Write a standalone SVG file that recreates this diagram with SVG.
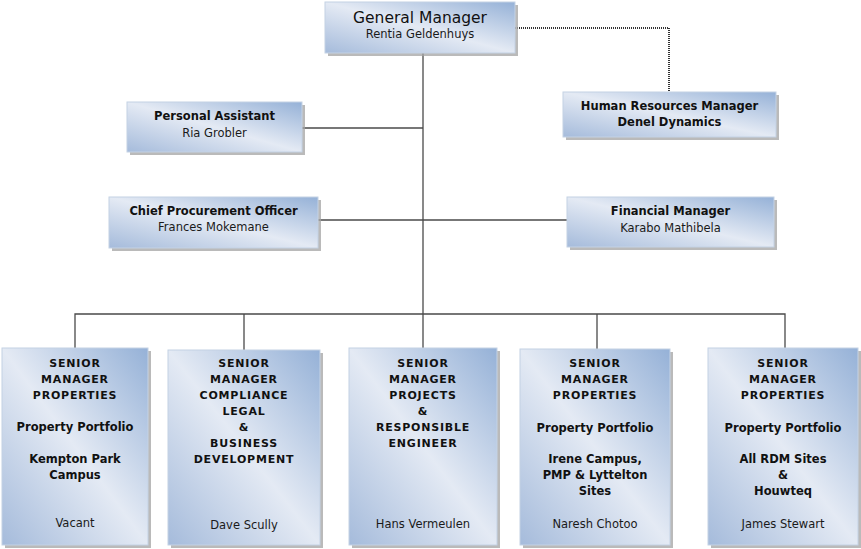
<svg xmlns="http://www.w3.org/2000/svg" width="861" height="549" viewBox="0 0 861 549">
<defs>
<linearGradient id="g" x1="1" y1="0" x2="0" y2="1">
<stop offset="0" stop-color="#95b1d7"/>
<stop offset="0.5" stop-color="#e4eaf4"/>
<stop offset="1" stop-color="#a5bbdb"/>
</linearGradient>
</defs>
<style>
.sh{fill:#a3a3a3;opacity:0.75}
.bx{fill:url(#g);stroke:#c4d2e4;stroke-width:1}
.ln{stroke:#4a4a4a;stroke-width:1.3;fill:none}
.dot{stroke:#333;stroke-width:2;stroke-dasharray:1 1;fill:none}
text{font-family:"DejaVu Sans","Liberation Sans",sans-serif;fill:#111;text-anchor:middle}
.t{font-size:11.5px;font-weight:bold}
.c{font-size:11px;font-weight:bold;letter-spacing:0.8px}
.n{font-size:11.5px;fill:#1a1a1a}
.gm{font-size:15.5px}
</style>
<g id="connectors">
<line class="ln" x1="423" y1="53" x2="423" y2="348"/>
<line class="ln" x1="302" y1="128" x2="423" y2="128"/>
<line class="ln" x1="318" y1="220" x2="567" y2="220"/>
<polyline class="ln" points="75,348 75,314 785,314 785,348"/>
<line class="ln" x1="244" y1="314" x2="244" y2="350"/>
<line class="ln" x1="597" y1="314" x2="597" y2="349"/>
<polyline class="dot" points="515,28 669,28 669,92"/>
</g>
<g id="gm">
<rect class="sh" x="328" y="5" width="190" height="51"/>
<rect class="bx" x="325" y="2" width="190" height="51"/>
<text class="gm" x="420" y="23">General Manager</text>
<text class="n" x="420" y="38">Rentia Geldenhuys</text>
</g>
<g id="pa">
<rect class="sh" x="130" y="105" width="175" height="50"/>
<rect class="bx" x="127" y="102" width="175" height="50"/>
<text class="t" x="214.5" y="120">Personal Assistant</text>
<text class="n" x="214.5" y="137">Ria Grobler</text>
</g>
<g id="hr">
<rect class="sh" x="566" y="95" width="213" height="45"/>
<rect class="bx" x="563" y="92" width="213" height="45"/>
<text class="t" x="669.5" y="110">Human Resources Manager</text>
<text class="t" x="669.5" y="126">Denel Dynamics</text>
</g>
<g id="cpo">
<rect class="sh" x="112" y="200" width="209" height="51"/>
<rect class="bx" x="109" y="197" width="209" height="51"/>
<text class="t" x="213.5" y="215">Chief Procurement Officer</text>
<text class="n" x="213.5" y="231">Frances Mokemane</text>
</g>
<g id="fm">
<rect class="sh" x="570" y="200" width="207" height="50"/>
<rect class="bx" x="567" y="197" width="207" height="50"/>
<text class="t" x="670.5" y="215">Financial Manager</text>
<text class="n" x="670.5" y="232">Karabo Mathibela</text>
</g>
<g id="sm1">
<rect class="sh" x="5" y="351" width="146" height="197"/>
<rect class="bx" x="2" y="348" width="146" height="197"/>
<text class="c" x="75" y="367">SENIOR</text>
<text class="c" x="75" y="383">MANAGER</text>
<text class="c" x="75" y="399">PROPERTIES</text>
<text class="t" x="75" y="431">Property Portfolio</text>
<text class="t" x="75" y="463">Kempton Park</text>
<text class="t" x="75" y="479">Campus</text>
<text class="n" x="75" y="527">Vacant</text>
</g>
<g id="sm2">
<rect class="sh" x="171" y="353" width="152" height="195"/>
<rect class="bx" x="168" y="350" width="152" height="195"/>
<text class="c" x="244" y="367">SENIOR</text>
<text class="c" x="244" y="383">MANAGER</text>
<text class="c" x="244" y="399">COMPLIANCE</text>
<text class="c" x="244" y="415">LEGAL</text>
<text class="c" x="244" y="431">&amp;</text>
<text class="c" x="244" y="447">BUSINESS</text>
<text class="c" x="244" y="463">DEVELOPMENT</text>
<text class="n" x="244" y="529">Dave Scully</text>
</g>
<g id="sm3">
<rect class="sh" x="352" y="351" width="148" height="197"/>
<rect class="bx" x="349" y="348" width="148" height="197"/>
<text class="c" x="423" y="367">SENIOR</text>
<text class="c" x="423" y="383">MANAGER</text>
<text class="c" x="423" y="399">PROJECTS</text>
<text class="c" x="423" y="415">&amp;</text>
<text class="c" x="423" y="431">RESPONSIBLE</text>
<text class="c" x="423" y="447">ENGINEER</text>
<text class="n" x="423" y="528">Hans Vermeulen</text>
</g>
<g id="sm4">
<rect class="sh" x="523" y="352" width="150" height="196"/>
<rect class="bx" x="520" y="349" width="150" height="196"/>
<text class="c" x="595" y="367">SENIOR</text>
<text class="c" x="595" y="383">MANAGER</text>
<text class="c" x="595" y="399">PROPERTIES</text>
<text class="t" x="595" y="432">Property Portfolio</text>
<text class="t" x="595" y="463">Irene Campus,</text>
<text class="t" x="595" y="479">PMP &amp; Lyttelton</text>
<text class="t" x="595" y="495">Sites</text>
<text class="n" x="595" y="528">Naresh Chotoo</text>
</g>
<g id="sm5">
<rect class="sh" x="711" y="351" width="150" height="197"/>
<rect class="bx" x="708" y="348" width="150" height="197"/>
<text class="c" x="783" y="367">SENIOR</text>
<text class="c" x="783" y="383">MANAGER</text>
<text class="c" x="783" y="399">PROPERTIES</text>
<text class="t" x="783" y="432">Property Portfolio</text>
<text class="t" x="783" y="463">All RDM Sites</text>
<text class="t" x="783" y="479">&amp;</text>
<text class="t" x="783" y="495">Houwteq</text>
<text class="n" x="783" y="528">James Stewart</text>
</g>
</svg>
